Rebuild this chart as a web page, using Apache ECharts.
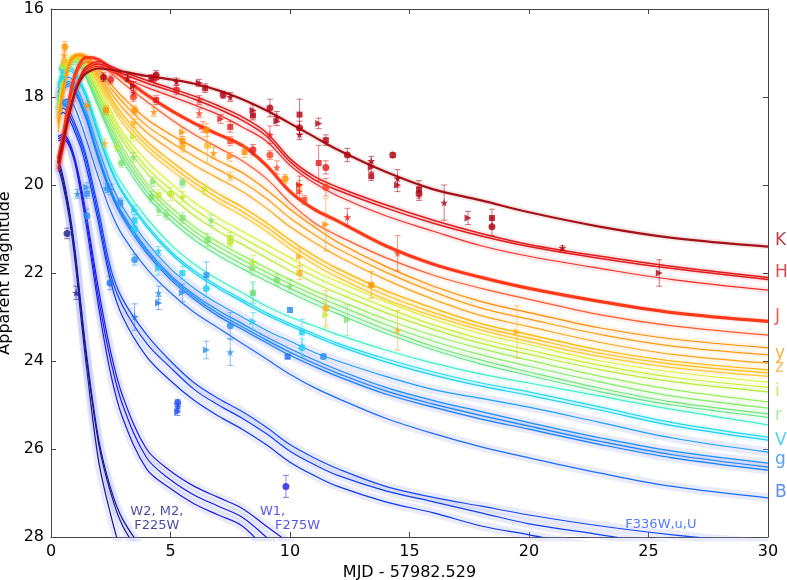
<!DOCTYPE html>
<html><head><meta charset="utf-8">
<script src="https://cdn.jsdelivr.net/npm/echarts@6/dist/echarts.min.js"></script>
<style>html,body{margin:0;padding:0;background:#fff}#c{width:787px;height:580px}</style>
</head><body><div id="c"></div>
<script>
// ---------- DATA ----------
const days = [0.3, 0.5, 0.75, 1, 1.25, 1.5, 2, 2.5, 3, 4, 5, 6, 7, 8, 9, 10, 11, 12, 14, 16, 18, 20, 23, 26, 30];

const modelK  = [19.5, 19.0, 18.4, 17.9, 17.6, 17.45, 17.35, 17.38, 17.42, 17.52, 17.6, 17.7, 17.85, 18.05, 18.3, 18.6, 18.9, 19.2, 19.7, 20.1, 20.35, 20.62, 20.95, 21.2, 21.4];
const modelH1 = [19.6, 19.1, 18.4, 17.85, 17.5, 17.3, 17.2, 17.3, 17.42, 17.62, 17.8, 17.98, 18.2, 18.45, 18.8, 19.4, 19.8, 20.05, 20.45, 20.8, 21.1, 21.35, 21.62, 21.85, 22.1];
const modelH2 = [19.65, 19.15, 18.45, 17.9, 17.55, 17.35, 17.25, 17.35, 17.47, 17.68, 17.86, 18.05, 18.27, 18.53, 18.88, 19.47, 19.87, 20.12, 20.52, 20.87, 21.16, 21.4, 21.67, 21.9, 22.15];
const modelH3 = [19.7, 19.2, 18.5, 17.95, 17.6, 17.4, 17.3, 17.42, 17.55, 17.78, 17.98, 18.18, 18.4, 18.68, 19.0, 19.55, 19.95, 20.25, 20.7, 21.05, 21.38, 21.62, 21.9, 22.15, 22.39];
const modelJ1 = [19.4, 18.9, 18.1, 17.5, 17.2, 17.1, 17.15, 17.35, 17.55, 17.95, 18.3, 18.6, 18.85, 19.1, 19.55, 20.15, 20.55, 20.82, 21.38, 21.8, 22.1, 22.35, 22.65, 22.9, 23.1];
const modelJ2 = [19.5, 19.0, 18.2, 17.6, 17.3, 17.2, 17.25, 17.45, 17.68, 18.1, 18.5, 18.85, 19.15, 19.45, 19.85, 20.4, 20.85, 21.15, 21.65, 22.05, 22.35, 22.6, 22.95, 23.2, 23.41];
const modelY1 = [18.6, 17.8, 17.25, 17.05, 17.02, 17.08, 17.35, 17.7, 18.0, 18.5, 18.85, 19.15, 19.45, 19.72, 20.1, 20.55, 20.95, 21.3, 21.85, 22.3, 22.65, 22.9, 23.25, 23.5, 23.7];
const modelY2 = [18.7, 17.9, 17.3, 17.08, 17.05, 17.12, 17.42, 17.8, 18.12, 18.65, 19.02, 19.35, 19.65, 19.93, 20.3, 20.75, 21.12, 21.45, 21.98, 22.43, 22.8, 23.05, 23.4, 23.66, 23.86];
const modelY3 = [18.8, 18.0, 17.35, 17.1, 17.08, 17.16, 17.5, 17.9, 18.25, 18.8, 19.2, 19.55, 19.85, 20.15, 20.52, 20.95, 21.3, 21.62, 22.15, 22.6, 22.97, 23.22, 23.58, 23.85, 24.05];
const modelZ1 = [18.5, 17.7, 17.2, 17.05, 17.05, 17.15, 17.55, 18.0, 18.4, 19.0, 19.45, 19.85, 20.2, 20.5, 20.85, 21.25, 21.6, 21.9, 22.4, 22.8, 23.15, 23.4, 23.75, 24.0, 24.2];
const modelZ2 = [18.55, 17.75, 17.25, 17.08, 17.08, 17.2, 17.62, 18.08, 18.5, 19.1, 19.55, 19.95, 20.3, 20.6, 20.95, 21.35, 21.7, 22.0, 22.5, 22.9, 23.23, 23.48, 23.83, 24.07, 24.27];
const modelZ3 = [18.6, 17.8, 17.3, 17.12, 17.12, 17.25, 17.7, 18.16, 18.6, 19.2, 19.65, 20.05, 20.4, 20.7, 21.05, 21.45, 21.8, 22.1, 22.6, 22.98, 23.3, 23.56, 23.9, 24.15, 24.35];
const modelI1 = [18.3, 17.6, 17.15, 17.05, 17.1, 17.25, 17.75, 18.3, 18.8, 19.45, 19.95, 20.4, 20.75, 21.05, 21.35, 21.65, 21.95, 22.2, 22.65, 23.05, 23.38, 23.63, 24.0, 24.25, 24.48];
const modelI2 = [18.35, 17.65, 17.2, 17.1, 17.15, 17.3, 17.85, 18.4, 18.9, 19.6, 20.1, 20.55, 20.9, 21.2, 21.5, 21.8, 22.08, 22.33, 22.78, 23.18, 23.5, 23.75, 24.1, 24.37, 24.6];
const modelI3 = [18.4, 17.7, 17.25, 17.15, 17.2, 17.38, 17.95, 18.5, 19.0, 19.72, 20.25, 20.7, 21.05, 21.35, 21.65, 21.95, 22.22, 22.46, 22.9, 23.28, 23.6, 23.85, 24.2, 24.47, 24.7];
const modelR1 = [18.1, 17.5, 17.15, 17.1, 17.2, 17.4, 18.0, 18.6, 19.15, 19.95, 20.5, 20.95, 21.3, 21.6, 21.88, 22.15, 22.4, 22.62, 23.05, 23.42, 23.72, 23.98, 24.35, 24.65, 24.93];
const modelR2 = [18.15, 17.55, 17.2, 17.15, 17.25, 17.48, 18.1, 18.7, 19.25, 20.05, 20.6, 21.05, 21.4, 21.7, 21.98, 22.25, 22.5, 22.73, 23.17, 23.55, 23.86, 24.12, 24.48, 24.8, 25.07];
const modelR3 = [18.2, 17.6, 17.25, 17.2, 17.3, 17.55, 18.18, 18.8, 19.35, 20.15, 20.7, 21.15, 21.5, 21.8, 22.08, 22.35, 22.6, 22.84, 23.28, 23.67, 23.98, 24.25, 24.62, 24.93, 25.2];
const modelR4 = [18.25, 17.65, 17.3, 17.25, 17.35, 17.6, 18.25, 18.88, 19.45, 20.25, 20.8, 21.25, 21.6, 21.9, 22.18, 22.45, 22.7, 22.93, 23.37, 23.75, 24.07, 24.33, 24.7, 25.0, 25.28];
const modelV1 = [17.7, 17.4, 17.3, 17.4, 17.65, 17.95, 18.75, 19.5, 20.0, 20.75, 21.35, 21.8, 22.15, 22.45, 22.75, 23.0, 23.2, 23.4, 23.75, 24.05, 24.3, 24.5, 24.8, 25.1, 25.45];
const modelV2 = [17.75, 17.45, 17.35, 17.45, 17.7, 18.0, 18.85, 19.6, 20.15, 20.9, 21.5, 21.95, 22.3, 22.6, 22.9, 23.15, 23.38, 23.6, 23.95, 24.25, 24.5, 24.7, 25.05, 25.4, 25.73];
const modelV3 = [17.8, 17.5, 17.4, 17.5, 17.75, 18.05, 18.9, 19.65, 20.2, 20.95, 21.55, 22.0, 22.35, 22.65, 22.95, 23.2, 23.43, 23.65, 24.02, 24.32, 24.57, 24.78, 25.12, 25.47, 25.8];
const modelG1 = [17.9, 17.65, 17.55, 17.7, 18.0, 18.35, 19.2, 19.95, 20.5, 21.3, 21.9, 22.35, 22.7, 23.0, 23.3, 23.55, 23.8, 24.0, 24.35, 24.65, 24.85, 25.05, 25.4, 25.75, 26.07];
const modelG2 = [18.0, 17.75, 17.65, 17.8, 18.1, 18.45, 19.35, 20.1, 20.65, 21.45, 22.05, 22.5, 22.85, 23.15, 23.45, 23.72, 23.97, 24.2, 24.6, 24.9, 25.15, 25.4, 25.75, 26.05, 26.32];
const modelG3 = [18.05, 17.8, 17.7, 17.85, 18.15, 18.5, 19.4, 20.15, 20.7, 21.5, 22.1, 22.55, 22.92, 23.22, 23.52, 23.8, 24.05, 24.28, 24.68, 24.98, 25.24, 25.48, 25.83, 26.13, 26.41];
const modelG4 = [18.1, 17.85, 17.75, 17.9, 18.2, 18.55, 19.45, 20.2, 20.75, 21.55, 22.15, 22.6, 22.98, 23.28, 23.58, 23.87, 24.12, 24.35, 24.75, 25.05, 25.32, 25.55, 25.9, 26.2, 26.48];
const modelB  = [18.3, 18.1, 18.05, 18.25, 18.6, 19.0, 19.85, 20.6, 21.15, 21.9, 22.45, 22.9, 23.25, 23.6, 23.95, 24.3, 24.6, 24.85, 25.3, 25.65, 25.95, 26.2, 26.55, 26.85, 27.11];
const modelU1 = [18.3, 18.15, 18.3, 18.6, 18.95, 19.4, 20.6, 21.9, 22.6, 23.4, 24.0, 24.5, 24.85, 25.15, 25.5, 25.9, 26.2, 26.45, 26.85, 27.1, 27.3, 27.5, 27.75, 27.95, 28.15];
const modelU2 = [18.4, 18.25, 18.4, 18.7, 19.05, 19.5, 20.75, 22.05, 22.75, 23.6, 24.15, 24.65, 25.0, 25.3, 25.65, 26.05, 26.35, 26.6, 26.95, 27.2, 27.45, 27.7, 27.95, 28.2, 28.5];
const modelU3 = [18.5, 18.35, 18.5, 18.8, 19.15, 19.65, 20.9, 22.2, 23.0, 23.9, 24.45, 24.9, 25.25, 25.55, 25.9, 26.3, 26.6, 26.85, 27.2, 27.45, 27.75, 27.95, 28.25, 28.5, 28.8];
const modelW1a = [19.0, 18.95, 19.1, 19.5, 20.2, 21.0, 22.8, 24.3, 25.3, 26.45, 26.9, 27.25, 27.5, 27.75, 28.3, null, null, null, null, null, null, null, null, null, null];
const modelW1b = [18.95, 18.9, 19.05, 19.45, 20.1, 20.85, 22.6, 24.0, 25.0, 26.2, 26.7, 27.05, 27.3, 27.55, 28.0, 28.5, null, null, null, null, null, null, null, null, null];
const modelW1c = [18.9, 18.85, 19.0, 19.4, 20.0, 20.75, 22.4, 23.8, 24.8, 26.0, 26.5, 26.85, 27.1, 27.35, 27.75, 28.15, 28.6, null, null, null, null, null, null, null, null];
const modelW2a = [19.6, 20.0, 20.7, 21.7, 23.0, 24.2, 26.3, 27.5, 28.5, null, null, null, null, null, null, null, null, null, null, null, null, null, null, null, null];
const modelW2b = [19.5, 19.9, 20.6, 21.55, 22.8, 24.0, 25.9, 27.0, 27.75, 28.6, null, null, null, null, null, null, null, null, null, null, null, null, null, null, null];
const modelW2c = [19.4, 19.8, 20.5, 21.45, 22.7, 23.9, 25.8, 26.9, 27.6, 28.4, null, null, null, null, null, null, null, null, null, null, null, null, null, null, null];

// observations: [day, magnitude, error]
const obsK = [[2.2,17.55,0.1],[3.2,17.57,0.08],[3.45,17.75,0.1],[4.2,17.57,0.08],[4.4,17.5,0.1],[5.25,17.65,0.08],[6.2,17.68,0.08],[6.45,17.8,0.1],[7.2,17.95,0.08],[7.5,18.0,0.1],
  [8.45,18.3,0.12],[8.45,18.42,0.1],[9.16,18.25,0.2],[9.45,18.45,0.12],[9.45,18.55,0.1],[10.4,18.4,0.35],[10.4,18.7,0.15],[10.4,18.85,0.12],[11.2,18.6,0.12],[11.5,18.98,0.12],
  [12.4,19.32,0.15],[13.4,19.45,0.1],[13.4,19.6,0.12],[13.4,19.8,0.1],[14.3,19.32,0.05],[14.5,19.85,0.2],[14.5,20.0,0.15],[15.4,20.1,0.2],[15.4,20.2,0.15],[16.45,20.4,0.4],
  [17.45,20.75,0.15],[18.45,20.75,0.2],[18.45,20.95,0.2],[21.4,21.43,0.05],[25.45,22.0,0.3]];
const obsH = [[2.5,17.6,0.1],[3.45,17.9,0.1],[4.4,17.6,0.1],[4.4,18.07,0.1],[5.25,17.84,0.1],[6.2,18.07,0.1],[7.1,18.5,0.1],[7.5,18.68,0.12],[8.45,19.2,0.12],[9.16,18.86,0.2],[10.4,20.0,0.2],[11.2,19.5,0.4],[11.5,19.6,0.15],[12.4,20.73,0.2]];
const obsJ = [[3.45,18.0,0.1],[6.2,18.37,0.1],[6.35,18.68,0.12],[7.5,19.0,0.1],[9.16,19.32,0.1],[9.45,19.6,0.15],[10.4,20.15,0.15],[10.6,20.34,0.1],[11.5,20.05,0.2],[14.5,21.55,0.4]];
const obsY = [[0.58,16.86,0.12],[0.55,17.05,0.1],[1.55,18.2,0.1],[2.3,18.3,0.1],[3.5,18.3,0.1],[4.3,18.34,0.1],[5.5,18.8,0.1],[5.5,19.0,0.1],[6.5,18.75,0.15],[6.8,19.27,0.12],[7.5,19.36,0.1],[8.1,19.25,0.12],[9.8,19.86,0.1],[10.4,20.0,0.1],[11.5,20.9,0.6],[13.4,22.27,0.3]];
const obsZ = [[0.55,17.2,0.1],[2.25,19.05,0.1],[3.5,18.6,0.1],[5.5,19.13,0.12],[6.55,19.1,0.4],[7.5,19.8,0.1],[10.4,21.63,0.2],[10.4,22.0,0.15],[11.5,22.8,0.4],[14.5,23.3,0.45],[19.5,23.34,0.6]];
const obsI = [[0.5,17.3,0.1],[2.75,19.13,0.1],[3.45,18.9,0.1],[4.5,20.23,0.12],[5.0,20.2,0.15],[5.5,20.27,0.12],[6.45,20.1,0.12],[7.5,21.2,0.12],[7.5,21.3,0.1],[8.45,21.75,0.15],[11.5,22.95,0.3]];
const obsR = [[2.95,19.5,0.1],[3.45,19.36,0.1],[4.3,19.93,0.1],[5.5,19.95,0.1],[4.2,20.27,0.12],[4.5,20.57,0.12],[4.85,20.68,0.1],[5.5,20.75,0.12],[6.55,21.25,0.15],[6.7,20.8,0.12],[8.45,21.9,0.15],[8.45,22.45,0.2],[9.45,22.16,0.12],[10.0,22.3,0.15],[12.4,23.07,0.35]];
const obsV = [[0.46,17.35,0.1],[0.5,17.55,0.1],[3.5,20.57,0.1],[3.5,20.8,0.12],[3.5,21.0,0.12],[4.5,21.5,0.1],[4.5,21.9,0.15],[5.5,22.0,0.15],[6.5,22.35,0.2],[8.45,22.45,0.25],[8.45,23.1,0.2],[10.5,23.35,0.3],[10.5,23.7,0.2]];
const obsG = [[0.6,18.15,0.1],[1.1,20.2,0.1],[1.5,20.05,0.1],[1.5,20.2,0.1],[1.5,20.7,0.15],[2.3,20.07,0.1],[2.5,20.1,0.12],[2.9,20.4,0.1],[3.5,21.7,0.12],[4.5,22.45,0.15],[5.5,22.45,0.2],[6.5,22.05,0.3],[7.5,23.2,0.3],[7.5,23.8,0.3],[6.5,23.75,0.2],[10.0,22.84,0.05],[11.4,23.9,0.05]];
const obsB = [[2.47,22.23,0.15],[3.5,23.0,0.3],[4.5,22.68,0.15],[9.9,23.9,0.05]];
const obsU = [[5.3,24.95,0.08],[5.3,25.05,0.08],[5.3,25.16,0.08]];
const obsW1 = [[9.83,26.85,0.25]];
const obsW2 = [[0.67,21.1,0.12],[1.05,22.45,0.15]];

const bandLabels = ['K','H','J','y','z','i','r','V','g','B'];
const bandLabelMags = [21.27, 22.0, 23.0, 23.82, 24.14, 24.7, 25.23, 25.8, 26.25, 27.0];
const uvLabels = ['W2, M2,\nF225W', 'W1,', 'F275W', 'F336W,u,U'];
const uvLabelDays = [4.43, 8.74, 9.37, 25.52];
const uvLabelMags = [27.59, 27.43, 27.75, 27.73];

// ---------- STYLE / BUILD ----------
const FONT = 'DejaVu Sans';
const curves = [
  [modelU1,'#1448ff',1.2,'uv'],[modelU2,'#1040f8',1.2,'uv'],[modelU3,'#0c38f0',1.2,'uv'],
  [modelW1a,'#1c1ce8',1.2,'uv'],[modelW1b,'#1c1ce8',1.2,'uv'],[modelW1c,'#1c1ce8',1.2,'uv'],
  [modelW2a,'#1a1a96',1.2,'uv'],[modelW2b,'#1a1a96',1.2,'uv'],[modelW2c,'#1a1a96',1.2,'uv'],
  [modelB,'#1a6cff',1.2,'uv'],
  [modelG1,'#1ca0ff',1.2,'uv'],[modelG2,'#1890ff',1.2,'uv'],[modelG3,'#1488ff',1.2,'uv'],[modelG4,'#1080ff',1.2,'uv'],
  [modelV1,'#3ef0c8',1.2],[modelV2,'#22dcee',1.2],[modelV3,'#18d0f6',1.2],
  [modelR1,'#9aee5a',1.2],[modelR2,'#84ea6a',1.2],[modelR3,'#72e67a',1.2],[modelR4,'#64e48a',1.2],
  [modelI1,'#d8f03a',1.2],[modelI2,'#c8ee30',1.2],[modelI3,'#b8ea38',1.2],
  [modelZ1,'#ffb300',1.2],[modelZ2,'#ffbf1a',1.2],[modelZ3,'#ffc733',1.2],
  [modelY1,'#ff8c00',1.2],[modelY2,'#ff9a14',1.2],[modelY3,'#ffa31a',1.2],
  [modelJ2,'#ff5a2a',1.2],[modelJ1,'#ff3a1a',3.2],
  [modelH3,'#f52a2a',1.2],[modelH2,'#e31a1c',1.5],[modelH1,'#e31a1c',1.5],
  [modelK,'#a50f15',2.2]
];
const obsSets = [
  [obsW2,'#202090'],[obsW1,'#2020e0'],[obsU,'#1848f0'],[obsB,'#2070f0'],[obsG,'#2a90f0'],[obsV,'#20d0f0'],
  [obsR,'#7ee070'],[obsI,'#c0e830'],[obsZ,'#ffb020'],[obsY,'#ff9000'],[obsJ,'#ff4020'],[obsH,'#e41a1c'],[obsK,'#b00010']
];
const labelColors = ['#b0101a','#e41a1c','#f03a28','#ff9a00','#ffaa3a','#b8e840','#90e870','#20c8f0','#2a8af0','#2a70f0'];
const uvColors = ['#1c1c8a','#2a2ae8','#2a2ae8','#2a58ff'];
const uvAlign = ['center','left','left','center'];

const STAR = 'path://M50,0 L61,35 L98,35 L68,57 L79,91 L50,70 L21,91 L32,57 L2,35 L39,35 Z';
const shapes = [
  {symbol:'circle', size:7, rot:0},
  {symbol:STAR, size:8, rot:0},
  {symbol:'triangle', size:7, rot:-90},
  {symbol:'rect', size:6, rot:0}
];

const series = [];
curves.forEach(([arr, color, w, kind]) => {
  const data = days.map((d, i) => [d, arr[i]]);
  series.push({
    type:'line', data, smooth:0.35, showSymbol:false, silent:true, animation:false, clip:true,
    lineStyle:{color: kind==='uv' ? '#a8aef0' : color, width: kind==='uv' ? 9 : 6, opacity: kind==='uv' ? 0.25 : 0.1},
    z:1
  });
});
curves.forEach(([arr, color, w]) => {
  const data = days.map((d, i) => [d, arr[i]]);
  series.push({
    type:'line', data, smooth:0.35, showSymbol:false, silent:true, animation:false, clip:true,
    lineStyle:{color, width:w}, z:2
  });
});
obsSets.forEach(([arr, color]) => {
  series.push({
    type:'custom', animation:false, clip:true, z:3, silent:true,
    data: arr,
    renderItem: (params, api) => {
      const x = api.value(0), y = api.value(1), e = api.value(2);
      const a = api.coord([x, y - e]), b = api.coord([x, y + e]);
      const st = {stroke: color, lineWidth: 1, opacity: 0.55};
      return {type:'group', children:[
        {type:'line', shape:{x1:a[0], y1:a[1], x2:b[0], y2:b[1]}, style:st},
        {type:'line', shape:{x1:a[0]-3, y1:a[1], x2:a[0]+3, y2:a[1]}, style:st},
        {type:'line', shape:{x1:b[0]-3, y1:b[1], x2:b[0]+3, y2:b[1]}, style:st}
      ]};
    }
  });
  series.push({
    type:'scatter', animation:false, clip:true, z:4, silent:true,
    data: arr.map((p, i) => {
      const s = shapes[i % shapes.length];
      return {value:[p[0], p[1]], symbol:s.symbol, symbolSize:s.size, symbolRotate:s.rot};
    }),
    itemStyle:{color, opacity:0.8}
  });
});
series.push({
  type:'scatter', animation:false, silent:true, clip:false, z:5, symbolSize:0,
  data: bandLabels.map((t, i) => ({value:[30, bandLabelMags[i]], name:t,
    label:{show:true, position:'right', distance:7, formatter:t, color:labelColors[i], fontSize:17, fontFamily:FONT}}))
});
series.push({
  type:'scatter', animation:false, silent:true, clip:false, z:5, symbolSize:0,
  data: uvLabels.map((t, i) => ({value:[uvLabelDays[i], uvLabelMags[i]], name:t,
    label:{show:true, position:'inside', formatter:t, color:uvColors[i], fontSize:13, lineHeight:14,
      fontFamily:FONT, align:uvAlign[i], verticalAlign:'middle'}}))
});

const axisCommon = {
  axisLine:{show:true, onZero:false, lineStyle:{color:'#444', width:1}},
  axisTick:{show:true, inside:true, length:5, lineStyle:{color:'#444'}},
  splitLine:{show:false}
};
const chart = echarts.init(document.getElementById('c'), null, {renderer:'canvas'});
chart.setOption({
  animation:false,
  backgroundColor:'#fff',
  grid:{left:51, right:19, top:9, bottom:43, containLabel:false, outerBoundsMode:'none'},
  xAxis:[
    Object.assign({type:'value', min:0, max:30, interval:5, position:'bottom',
      axisLabel:{fontSize:16, color:'#000', margin:7, fontFamily:FONT},
      name:'MJD - 57982.529', nameLocation:'middle', nameGap:21,
      nameTextStyle:{fontSize:16, color:'#000', fontFamily:FONT}}, axisCommon),
    Object.assign({type:'value', min:0, max:30, interval:5, position:'top', axisLabel:{show:false}}, axisCommon)
  ],
  yAxis:[
    Object.assign({type:'value', min:16, max:28, interval:2, inverse:true, position:'left',
      axisLabel:{fontSize:16, color:'#000', margin:7, fontFamily:FONT},
      name:'Apparent Magnitude', nameLocation:'middle', nameGap:30,
      nameTextStyle:{fontSize:16, color:'#000', fontFamily:FONT}}, axisCommon),
    Object.assign({type:'value', min:16, max:28, interval:2, inverse:true, position:'right', axisLabel:{show:false}}, axisCommon)
  ],
  series
});
</script>
</body></html>
